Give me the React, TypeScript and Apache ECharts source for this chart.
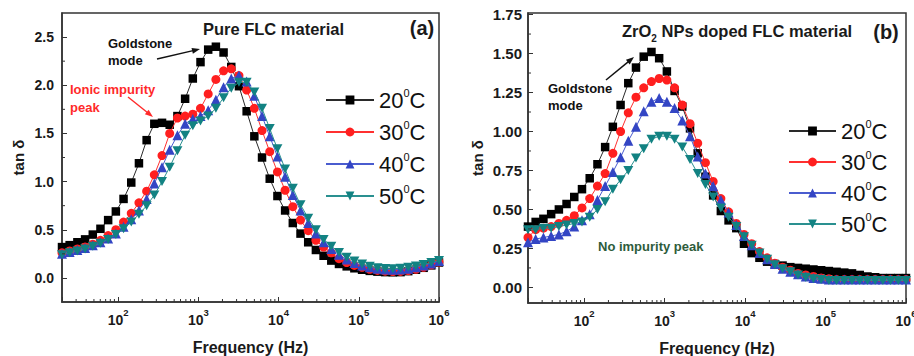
import React, { useEffect, useRef } from "react";
import * as echarts from "echarts";

// Frequencies (Hz) of the log sweep, 20 Hz .. 1 MHz
const FREQ = [20, 24.9, 31.1, 38.8, 48.4, 60.3, 75.2, 93.8, 117, 146, 182, 227, 283, 353, 440, 549, 685, 854, 1065, 1328, 1656, 2065, 2575, 3211, 4005, 4994, 6228, 7767, 9687, 12080, 15066, 18789, 23431, 29222, 36443, 45448, 56680, 70686, 88153, 109937, 137103, 170983, 213236, 265929, 331642, 413595, 515800, 643260, 802220, 1000000];

// Panel (a): pure FLC material
const A_20C = [0.32, 0.34, 0.37, 0.40, 0.45, 0.51, 0.60, 0.69, 0.82, 0.99, 1.19, 1.43, 1.60, 1.61, 1.59, 1.68, 1.86, 2.07, 2.24, 2.37, 2.40, 2.34, 2.19, 1.99, 1.73, 1.47, 1.25, 1.03, 0.85, 0.70, 0.57, 0.46, 0.37, 0.29, 0.23, 0.18, 0.145, 0.12, 0.10, 0.085, 0.073, 0.065, 0.06, 0.058, 0.06, 0.07, 0.085, 0.105, 0.13, 0.16];
const A_30C = [0.26, 0.28, 0.30, 0.32, 0.35, 0.39, 0.44, 0.50, 0.58, 0.67, 0.78, 0.90, 1.07, 1.27, 1.50, 1.66, 1.68, 1.70, 1.76, 1.91, 2.06, 2.15, 2.17, 2.10, 1.95, 1.76, 1.53, 1.31, 1.10, 0.91, 0.74, 0.60, 0.49, 0.39, 0.32, 0.26, 0.20, 0.16, 0.13, 0.11, 0.09, 0.078, 0.07, 0.066, 0.067, 0.075, 0.09, 0.11, 0.135, 0.165];
const A_40C = [0.25, 0.27, 0.29, 0.31, 0.34, 0.37, 0.41, 0.46, 0.53, 0.61, 0.70, 0.82, 0.98, 1.15, 1.33, 1.48, 1.60, 1.65, 1.68, 1.74, 1.85, 1.98, 2.07, 2.10, 2.04, 1.89, 1.68, 1.47, 1.26, 1.05, 0.86, 0.70, 0.57, 0.46, 0.37, 0.30, 0.24, 0.19, 0.155, 0.13, 0.11, 0.095, 0.088, 0.085, 0.088, 0.095, 0.11, 0.13, 0.15, 0.175];
const A_50C = [0.24, 0.26, 0.28, 0.30, 0.33, 0.36, 0.40, 0.45, 0.51, 0.58, 0.66, 0.75, 0.86, 1.00, 1.15, 1.32, 1.48, 1.58, 1.63, 1.68, 1.76, 1.87, 1.97, 2.03, 2.03, 1.93, 1.76, 1.55, 1.34, 1.13, 0.93, 0.76, 0.62, 0.50, 0.40, 0.33, 0.265, 0.215, 0.175, 0.145, 0.12, 0.105, 0.097, 0.095, 0.10, 0.11, 0.125, 0.14, 0.16, 0.18];

// Panel (b): ZrO2 NPs doped FLC material
const B_20C = [0.39, 0.42, 0.44, 0.47, 0.50, 0.535, 0.58, 0.63, 0.70, 0.79, 0.90, 1.03, 1.17, 1.31, 1.41, 1.48, 1.51, 1.47, 1.385, 1.26, 1.16, 1.02, 0.86, 0.71, 0.59, 0.49, 0.43, 0.38, 0.28, 0.22, 0.19, 0.165, 0.15, 0.14, 0.13, 0.125, 0.12, 0.115, 0.11, 0.105, 0.10, 0.095, 0.09, 0.08, 0.07, 0.065, 0.06, 0.06, 0.06, 0.06];
const B_30C = [0.32, 0.37, 0.38, 0.39, 0.41, 0.43, 0.46, 0.51, 0.57, 0.65, 0.73, 0.86, 1.00, 1.12, 1.22, 1.28, 1.32, 1.34, 1.33, 1.28, 1.17, 1.05, 0.925, 0.80, 0.68, 0.57, 0.485, 0.41, 0.34, 0.28, 0.23, 0.19, 0.155, 0.13, 0.11, 0.09, 0.08, 0.07, 0.06, 0.055, 0.05, 0.05, 0.05, 0.05, 0.05, 0.05, 0.05, 0.05, 0.05, 0.05];
const B_40C = [0.29, 0.31, 0.32, 0.33, 0.34, 0.36, 0.39, 0.43, 0.47, 0.56, 0.65, 0.74, 0.835, 0.94, 1.03, 1.13, 1.19, 1.215, 1.19, 1.15, 1.07, 0.97, 0.84, 0.73, 0.65, 0.56, 0.48, 0.40, 0.33, 0.27, 0.22, 0.18, 0.15, 0.12, 0.10, 0.085, 0.07, 0.06, 0.055, 0.05, 0.05, 0.05, 0.05, 0.05, 0.05, 0.05, 0.05, 0.05, 0.05, 0.05];
const B_50C = [0.37, 0.37, 0.38, 0.38, 0.39, 0.40, 0.41, 0.42, 0.45, 0.50, 0.55, 0.63, 0.69, 0.75, 0.83, 0.89, 0.95, 0.97, 0.97, 0.95, 0.90, 0.82, 0.73, 0.66, 0.58, 0.51, 0.45, 0.39, 0.325, 0.27, 0.22, 0.18, 0.145, 0.12, 0.10, 0.08, 0.065, 0.055, 0.05, 0.045, 0.045, 0.045, 0.045, 0.045, 0.045, 0.045, 0.045, 0.045, 0.045, 0.045];

const TEMPS = ["20", "30", "40", "50"];

// Tick values
const MINOR_X = [30, 40, 50, 60, 70, 80, 90, 200, 300, 400, 500, 600, 700, 800, 900, 2000, 3000, 4000, 5000, 6000, 7000, 8000, 9000, 20000, 30000, 40000, 50000, 60000, 70000, 80000, 90000, 200000, 300000, 400000, 500000, 600000, 700000, 800000, 900000];
const A_Y_TICKS = [0, 0.5, 1.0, 1.5, 2.0, 2.5];
const A_Y_MINOR = [0.25, 0.75, 1.25, 1.75, 2.25];
const B_Y_TICKS = [0, 0.25, 0.5, 0.75, 1.0, 1.25, 1.5, 1.75];
const B_Y_MINOR = [0.125, 0.375, 0.625, 0.875, 1.125, 1.375, 1.625];

const FONT = "'Liberation Sans', Arial, Helvetica, sans-serif";
const AXIS_COLOR = "#333";
const TEXT_COLOR = "#1a1a1a";

const STYLES = [
  { color: "#000000", line: "#2a2a2a", symbol: "rect", size: 8.5 },
  { color: "#ff1f1f", line: "#ff3030", symbol: "circle", size: 9 },
  { color: "#3345c4", line: "#4a5ccf", symbol: "triangle", size: 10 },
  { color: "#128282", line: "#2a9090", symbol: "path://M0,0L10,0L5,9Z", size: [10, 9] as any },
];

function lineSeries(prefix: string, values: number[][], gi: number) {
  return values.map((vals, k) => ({
    name: prefix + TEMPS[k],
    type: "line",
    xAxisIndex: gi,
    yAxisIndex: gi,
    data: FREQ.map((f, i) => [f, vals[i]]),
    symbol: STYLES[k].symbol,
    symbolSize: STYLES[k].size,
    showSymbol: true,
    itemStyle: { color: STYLES[k].color },
    lineStyle: { color: STYLES[k].line, width: 1 },
    z: 3 + k,
  }));
}

function minorXSeries(gi: number) {
  return {
    type: "custom",
    xAxisIndex: gi,
    yAxisIndex: gi,
    silent: true,
    z: 10,
    data: MINOR_X.map((f) => [f, 0]),
    renderItem: (params: any, api: any) => {
      const cs = params.coordSys;
      const p = api.coord([api.value(0), api.value(1)]);
      const yb = cs.y + cs.height;
      return {
        type: "line",
        shape: { x1: p[0], y1: yb, x2: p[0], y2: yb - 3 },
        style: { stroke: AXIS_COLOR, lineWidth: 1 },
      };
    },
  };
}

function minorYSeries(gi: number, vals: number[]) {
  return {
    type: "custom",
    xAxisIndex: gi,
    yAxisIndex: gi,
    silent: true,
    z: 10,
    data: vals.map((v) => [20, v]),
    renderItem: (params: any, api: any) => {
      const cs = params.coordSys;
      const p = api.coord([api.value(0), api.value(1)]);
      return {
        type: "line",
        shape: { x1: cs.x, y1: p[1], x2: cs.x + 3, y2: p[1] },
        style: { stroke: AXIS_COLOR, lineWidth: 1 },
      };
    },
  };
}

function xAxis(gi: number) {
  return {
    type: "log",
    logBase: 10,
    gridIndex: gi,
    min: 20,
    max: 1000000,
    axisLine: { show: true, onZero: false, lineStyle: { color: AXIS_COLOR, width: 1.5 } },
    axisTick: { show: true, inside: true, length: 5, lineStyle: { color: AXIS_COLOR, width: 1 } },
    splitLine: { show: false },
    minorTick: { show: false },
    axisLabel: {
      margin: 5,
      color: TEXT_COLOR,
      fontFamily: FONT,
      formatter: (v: number) => {
        const e = Math.log10(v);
        const n = Math.round(e);
        if (Math.abs(e - n) > 1e-6) return "";
        return `{b|10}{s|${n}}`;
      },
      rich: {
        b: { fontSize: 14, fontWeight: "bold", lineHeight: 20, verticalAlign: "bottom", fontFamily: FONT, color: TEXT_COLOR },
        s: { fontSize: 9.5, fontWeight: "bold", lineHeight: 10, verticalAlign: "top", fontFamily: FONT, color: TEXT_COLOR },
      },
    },
    name: "Frequency (Hz)",
    nameLocation: "middle",
    nameGap: 37,
    nameTextStyle: { fontSize: 16, fontWeight: "bold", fontFamily: FONT, color: TEXT_COLOR },
  };
}

function yAxis(gi: number, min: number, max: number, ticks: number[], digits: number, fs: number, margin: number, nameGap: number) {
  return {
    type: "value",
    gridIndex: gi,
    min,
    max,
    axisLine: { show: true, onZero: false, lineStyle: { color: AXIS_COLOR, width: 1.5 } },
    axisTick: { show: true, inside: true, length: 5, customValues: ticks, lineStyle: { color: AXIS_COLOR, width: 1 } },
    splitLine: { show: false },
    axisLabel: {
      customValues: ticks,
      margin,
      fontSize: fs,
      fontWeight: "bold",
      fontFamily: FONT,
      color: TEXT_COLOR,
      formatter: (v: number) => v.toFixed(digits),
    },
    name: "tan δ",
    nameLocation: "middle",
    nameRotate: 90,
    nameGap,
    nameTextStyle: { fontSize: 15, fontWeight: "bold", fontFamily: FONT, color: TEXT_COLOR },
  };
}

function legend(prefix: string, left: number, top: number, itemWidth: number, itemGap: number) {
  return {
    data: TEMPS.map((t) => prefix + t),
    orient: "vertical",
    left,
    top,
    padding: 0,
    itemWidth,
    itemHeight: 11,
    itemGap,
    selectedMode: false,
    formatter: (name: string) => `{n|${name.slice(1)}}{s|0}{n|C}`,
    textStyle: {
      fontFamily: FONT,
      color: "#111",
      fontSize: 22,
      rich: {
        n: { fontSize: 22, lineHeight: 26, fontFamily: FONT, color: "#111" },
        s: { fontSize: 11, lineHeight: 12, verticalAlign: "top", fontFamily: FONT, color: "#111" },
      },
    },
  };
}

function txt(text: string, x: number, y: number, font: string, fill: string, align = "left") {
  return {
    type: "text",
    x,
    y,
    silent: true,
    z: 20,
    style: { text, font, fill, textAlign: align, textVerticalAlign: "middle", align, verticalAlign: "middle" },
  };
}

function arrow(x1: number, y1: number, x2: number, y2: number, color: string) {
  const dx = x2 - x1;
  const dy = y2 - y1;
  const L = Math.hypot(dx, dy);
  const ux = dx / L;
  const uy = dy / L;
  const hl = 8;
  const hw = 3;
  const bx = x2 - ux * hl;
  const by = y2 - uy * hl;
  return [
    { type: "line", silent: true, z: 20, shape: { x1, y1, x2: bx + ux * 2, y2: by + uy * 2 }, style: { stroke: color, lineWidth: 1.5 } },
    {
      type: "polygon",
      silent: true,
      z: 20,
      shape: { points: [[x2, y2], [bx - uy * hw, by + ux * hw], [bx + uy * hw, by - ux * hw]] },
      style: { fill: color },
    },
  ];
}

const ANN = `bold 13px ${FONT}`;
const RED = "#ff2a2a";

const option: any = {
  animation: false,
  backgroundColor: "#ffffff",
  grid: [
    { left: 62, top: 13, width: 377, height: 289, show: true, borderColor: AXIS_COLOR, borderWidth: 1.5, backgroundColor: "transparent", containLabel: false, outerBoundsMode: "none" },
    { left: 528, top: 13, width: 378, height: 290, show: true, borderColor: AXIS_COLOR, borderWidth: 1.5, backgroundColor: "transparent", containLabel: false, outerBoundsMode: "none" },
  ],
  xAxis: [xAxis(0), xAxis(1)],
  yAxis: [
    yAxis(0, -0.25, 2.75, A_Y_TICKS, 1, 14, 8, 36),
    yAxis(1, -0.1, 1.76, B_Y_TICKS, 2, 15, 6, 43),
  ],
  legend: [legend("a", 325, 87, 48, 8), legend("b", 788, 118, 47, 7)],
  series: [
    ...lineSeries("a", [A_20C, A_30C, A_40C, A_50C], 0),
    ...lineSeries("b", [B_20C, B_30C, B_40C, B_50C], 1),
    minorXSeries(0),
    minorXSeries(1),
    minorYSeries(0, A_Y_MINOR),
    minorYSeries(1, B_Y_MINOR),
  ],
  graphic: [
    txt("Pure FLC material", 273.5, 29, `bold 16.5px ${FONT}`, TEXT_COLOR, "center"),
    txt("(a)", 422, 27.5, `bold 20px ${FONT}`, TEXT_COLOR, "center"),
    {
      type: "text",
      x: 622,
      y: 31,
      silent: true,
      z: 20,
      style: {
        text: "{m|ZrO}{d|2}{m| NPs doped FLC material}",
        fill: TEXT_COLOR,
        font: `bold 16.5px ${FONT}`,
        textAlign: "left",
        textVerticalAlign: "middle",
        align: "left",
        verticalAlign: "middle",
        rich: {
          m: { fontSize: 16.5, fontWeight: "bold", fontFamily: FONT, lineHeight: 24, fill: TEXT_COLOR, color: TEXT_COLOR },
          d: { fontSize: 10, fontWeight: "bold", fontFamily: FONT, lineHeight: 8, verticalAlign: "bottom", fill: TEXT_COLOR, color: TEXT_COLOR },
        },
      },
    },
    txt("(b)", 886, 32, `bold 20px ${FONT}`, TEXT_COLOR, "center"),
    txt("Goldstone", 108, 43, ANN, "#111"),
    txt("mode", 108, 60, ANN, "#111"),
    ...arrow(157, 59, 200, 49, "#111"),
    txt("Ionic impurity", 70, 89, ANN, RED),
    txt("peak", 70, 107, ANN, RED),
    ...arrow(128, 97, 153, 117, RED),
    txt("Goldstone", 548, 88, ANN, "#111"),
    txt("mode", 548, 105, ANN, "#111"),
    ...arrow(606, 80, 634, 57, "#111"),
    txt("No impurity peak", 598, 246, ANN, "#2e5c3c"),
  ],
};

export default function App() {
  const ref = useRef<HTMLDivElement>(null);
  useEffect(() => {
    const chart = echarts.init(ref.current as HTMLDivElement, undefined, { renderer: "svg" });
    chart.setOption(option);
    return () => chart.dispose();
  }, []);
  return (
    <div
      ref={ref}
      style={{ position: "fixed", left: 0, top: 0, width: 914, height: 356, background: "#fff" }}
    />
  );
}
